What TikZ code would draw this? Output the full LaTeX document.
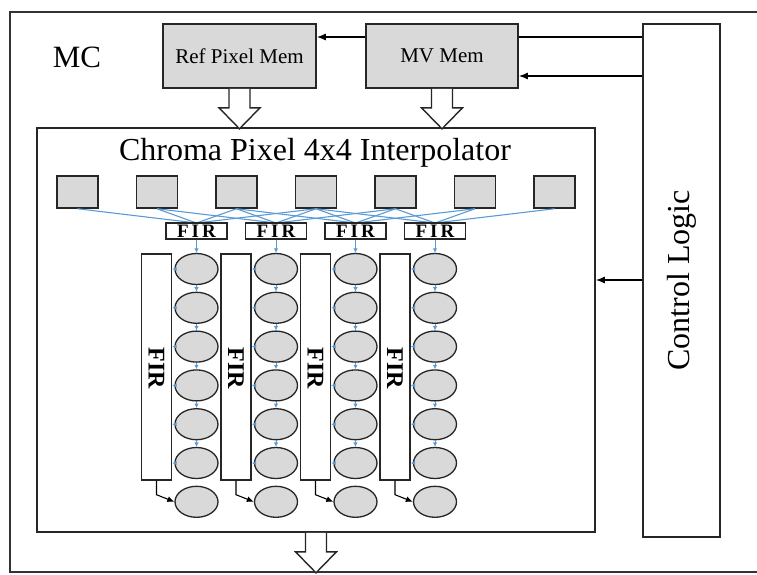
\documentclass[tikz,border=0pt]{standalone}
\usepackage{fontspec}
\setmainfont{Liberation Serif}
\usetikzlibrary{arrows.meta,calc,shapes.geometric}
\definecolor{boxgray}{HTML}{D9D9D9}
\definecolor{linkblue}{HTML}{5B9BD5}
\tikzset{
  frame/.style={draw=black!80, line width=1.6pt},
  membox/.style={draw=black!85, line width=1.6pt, fill=boxgray, inner sep=0pt},
  sqbox/.style={draw=black!85, line width=1.5pt, fill=boxgray, minimum width=41pt, minimum height=32pt, inner sep=0pt},
  firbox/.style={draw=black!85, line width=1.4pt, fill=white, minimum width=61pt, minimum height=16pt, inner sep=0pt, font=\fontsize{19}{19}\selectfont\bfseries},
  tallbox/.style={draw=black!85, line width=1.4pt, fill=white, minimum width=30pt, minimum height=226pt, inner sep=0pt},
  ell/.style={ellipse, draw=black!85, line width=1.3pt, fill=boxgray, minimum width=43pt, minimum height=31pt, inner sep=0pt},
  blueline/.style={draw=linkblue, line width=1.1pt},
  bluearrow/.style={draw=linkblue, line width=1pt, -{Latex[length=4.5pt,width=4.5pt]}},
  blackarrow/.style={draw=black, line width=1.3pt, -{Latex[length=9pt,width=7pt]}},
  plainline/.style={draw=black, line width=1.3pt},
  pics/hollow/.style={code={
    \draw[line width=1.4pt, draw=black!85, fill=white]
      (-10.5,0) -- (-10.5,#1-21) -- (-20.5,#1-21) -- (0,#1) -- (20.5,#1-21) -- (10.5,#1-21) -- (10.5,0);
  }}
}
\begin{document}
\begin{tikzpicture}[x=1pt,y=-1pt]
\useasboundingbox (0,0) rectangle (757,574);
% outer frame
\draw[frame] (10,12) rectangle (765,572);
\node[font=\fontsize{31}{31}\selectfont] (mc) at (77,57) {MC};
% memories
\node[membox, minimum width=153pt, minimum height=64pt, font=\fontsize{21}{21}\selectfont] (ref) at (239.5,56) {Ref Pixel Mem};
\node[membox, minimum width=152pt, minimum height=64pt, font=\fontsize{21}{21}\selectfont] (mv) at (442,56) {MV Mem};
% control logic
\node[draw=black!85, line width=1.6pt, fill=white, minimum width=77pt, minimum height=513pt, inner sep=0pt] (cl) at (681.5,280.5) {};
\node[rotate=90, font=\fontsize{32}{32}\selectfont] (cltext) at (cl.center) {Control Logic};
% interpolator
\node[draw=black!85, line width=1.6pt, fill=white, minimum width=558pt, minimum height=404pt, inner sep=0pt] (inner) at (316,330) {};
\node[font=\fontsize{32}{32}\selectfont] (title) at (315,153) {Chroma Pixel 4x4 Interpolator};
% control connections
\draw[plainline] (cl.west |- 0,37) coordinate (c1) -- (mv.east |- c1);
\draw[blackarrow] (mv.west |- 0,37) coordinate (c2) -- (ref.east |- c2);
\draw[blackarrow] (cl.west |- 0,76) coordinate (c3) -- (mv.east |- c3);
\draw[blackarrow] (cl.west |- 0,280) coordinate (c4) -- (inner.east |- c4);
% hollow arrows
\pic at (ref.south) {hollow=40};
\pic at (mv.south) {hollow=40};
\pic at (inner.south) {hollow=40};
% top squares
\foreach \i in {1,...,7}
  \node[sqbox] (s\i) at ({77.5+79.5*(\i-1)},192) {};
% columns
\foreach \j in {1,...,4} {
  \pgfmathsetmacro\cx{196.5+79.5*(\j-1)}
  \foreach \d in {0,...,3} {
    \pgfmathtruncatemacro\si{\j+\d}
    \draw[blueline] (s\si.south) -- (\cx,223);
  }
  \node[firbox] (f\j) at (\cx,231) {F\hspace{3pt}I\hspace{3pt}R};
  \node[tallbox] (t\j) at (\cx-40,367) {};
  \node[rotate=-90, font=\fontsize{24}{24}\selectfont\bfseries] (tl\j) at (\cx-40,368) {FIR};
  \foreach \k in {1,...,7}
    \node[ell] (e\j-\k) at (\cx,{269+38.8*(\k-1)}) {};
  \draw[bluearrow] (f\j.south) -- (e\j-1.north);
  \foreach \k [evaluate=\k as \kn using int(\k+1)] in {1,...,5}
    \draw[bluearrow] (e\j-\k.south) -- (e\j-\kn.north);
  \foreach \k in {1,...,6}
    \draw[bluearrow] (e\j-\k.west) -- (t\j.east |- e\j-\k.west);
  \draw[blackarrow, line width=1.1pt, -{Latex[length=7pt,width=6pt]}] (t\j.south) -- ++(0,14) -- (e\j-7.west);
}
\end{tikzpicture}
\end{document}
